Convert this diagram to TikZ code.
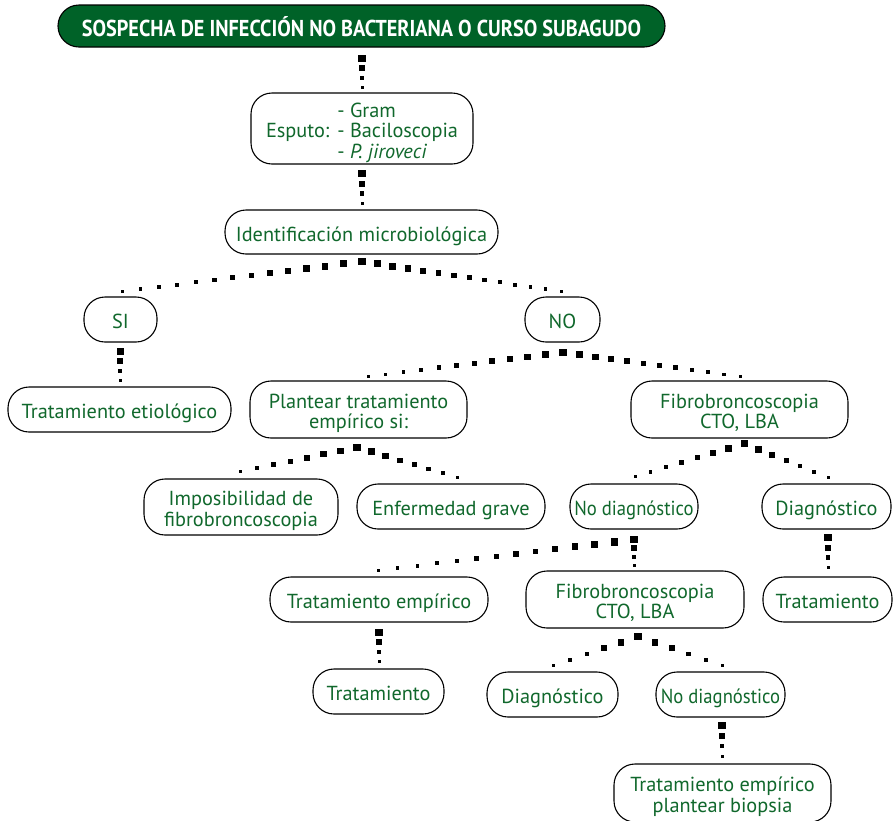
\documentclass[tikz,border=0pt]{standalone}
\usepackage{fontspec}
\setmainfont{PT Sans}
\newfontfamily\headfont[FakeStretch=0.88]{PT Sans}
\newfontfamily\narrowfont[FakeStretch=0.92]{PT Sans}
\usetikzlibrary{calc}
\definecolor{leafgreen}{RGB}{16,104,44}
\definecolor{headgreen}{RGB}{0,98,40}
\tikzset{
  box/.style={draw=black, line width=1.1pt, rounded corners=21pt, fill=white,
    text=leafgreen, align=center, inner sep=0pt,
    font=\fontsize{20.3}{20.5}\selectfont,
    text height=18pt, text depth=0pt},
  narrowbox/.style={box, font=\narrowfont\fontsize{20.3}{20.5}\selectfont},
  twoline/.style={box, text height=38.5pt, text depth=0pt},
  threeline/.style={box, text depth=41pt},
  headbox/.style={draw=black, line width=1.1pt, rounded corners=21pt,
    fill=headgreen, text=white, inner sep=0pt,
    font=\headfont\fontsize{23}{24}\selectfont\bfseries,
    text height=21.4pt, text depth=0pt},
  sq/.style={fill=black, draw=none, inner sep=0pt, outer sep=0pt}
}
% tapered chain of squares from #1 (large) to #2 (small), #3 intervals
\newcommand\dotlink[3]{%
  \foreach \k in {0,...,#3} {
    \pgfmathsetmacro\dlt{\k/#3}
    \pgfmathsetmacro\dsz{7.5-4.5*\dlt}
    \node[sq, minimum size=\dsz pt] at ($(#1)!\dlt!(#2)$) {};
  }}
\begin{document}
\begin{tikzpicture}[x=1pt, y=-1pt]
\useasboundingbox (0,0) rectangle (893,820);
\clip (0,0) rectangle (893,820);

% nodes
\node[headbox, minimum width=607pt, minimum height=42pt] (head) at (361.5,26)
  {SOSPECHA DE INFECCIÓN NO BACTERIANA O CURSO SUBAGUDO};
\node[threeline, minimum width=222pt, minimum height=71pt] (esputo) at (362,128.5)
  {\begin{tabular}[t]{@{}l@{\hspace{8pt}}l@{}}
     & - Gram\\
    Esputo: & - Baciloscopia\\
     & - \textit{P. jiroveci}
   \end{tabular}};
\node[box, minimum width=273pt, minimum height=44pt] (ident) at (361.5,232)
  {Identificación microbiológica};
\node[box, minimum width=73pt, minimum height=45pt] (si) at (120.5,319.5) {SI};
\node[box, minimum width=75pt, minimum height=45pt] (no) at (562.5,319.5) {NO};
\node[box, minimum width=223pt, minimum height=45pt] (tetio) at (119.5,409.5)
  {Tratamiento etiológico};
\node[twoline, minimum width=217pt, minimum height=57pt] (plantear) at (358.5,409.5)
  {Plantear tratamiento\\empírico si:};
\node[twoline, minimum width=217pt, minimum height=57pt] (fibroA) at (739.5,409.5)
  {Fibrobroncoscopia\\CTO, LBA};
\node[twoline, minimum width=194pt, minimum height=56pt] (imposib) at (241,507)
  {Imposibilidad de\\fibrobroncoscopia};
\node[box, minimum width=188pt, minimum height=45pt] (grave) at (451,506.5)
  {Enfermedad grave};
\node[narrowbox, minimum width=128pt, minimum height=45pt] (nodiagA) at (634,506.5)
  {No diagnóstico};
\node[box, minimum width=129pt, minimum height=45pt] (diagA) at (826.5,506.5)
  {Diagnóstico};
\node[box, minimum width=218pt, minimum height=45pt] (tempir) at (379,599.5)
  {Tratamiento empírico};
\node[twoline, minimum width=218pt, minimum height=57pt] (fibroB) at (635,599.5)
  {Fibrobroncoscopia\\CTO, LBA};
\node[box, minimum width=129pt, minimum height=45pt] (tratA) at (827.5,599.5)
  {Tratamiento};
\node[box, minimum width=131pt, minimum height=45pt] (tratB) at (378.5,691.5)
  {Tratamiento};
\node[box, minimum width=131pt, minimum height=45pt] (diagB) at (552.5,694.5)
  {Diagnóstico};
\node[narrowbox, minimum width=129pt, minimum height=45pt] (nodiagB) at (720.5,694.5)
  {No diagnóstico};
\node[twoline, minimum width=217pt, minimum height=58pt] (biopsia) at (722.5,793)
  {Tratamiento empírico\\plantear biopsia};

% connector end points
\coordinate (headOut)    at ($(head.south)+(0.5,11)$);
\coordinate (esputoIn)   at ($(esputo.north)+(0,-5)$);
\coordinate (esputoOut)  at ($(esputo.south)+(0,9)$);
\coordinate (identIn)    at ($(ident.north)+(0.5,-6)$);
\coordinate (identOut)   at ($(ident.south)+(0.5,7)$);
\coordinate (siIn)       at ($(si.north)+(1.5,-5)$);
\coordinate (noIn)       at ($(no.north)+(-1.5,-5)$);
\coordinate (siOut)      at ($(si.south)+(0,9)$);
\coordinate (tetioIn)    at ($(tetio.north)+(0.5,-6)$);
\coordinate (noOut)      at ($(no.south)+(0.5,10)$);
\coordinate (plantearIn) at ($(plantear.north)+(9.5,-4)$);
\coordinate (fibroAIn)   at ($(fibroA.north)+(0.5,-4)$);
\coordinate (plantearOut) at ($(plantear.south)+(-1.5,9)$);
\coordinate (imposibIn)  at ($(imposib.north)+(-1,-7)$);
\coordinate (graveIn)    at ($(grave.north)+(6,-6)$);
\coordinate (fibroAOut)  at ($(fibroA.south)+(5,5)$);
\coordinate (nodiagAIn)  at ($(nodiagA.north)+(1,-7)$);
\coordinate (diagAIn)    at ($(diagA.north)+(1.5,-6)$);
\coordinate (diagAOut)   at ($(diagA.south)+(1.5,8)$);
\coordinate (tratAIn)    at ($(tratA.north)+(0.5,-9)$);
\coordinate (nodiagAOut) at ($(nodiagA.south)+(0,10)$);
\coordinate (tempirIn)   at ($(tempir.north)+(-1,-6)$);
\coordinate (fibroBIn)   at ($(fibroB.north)+(-1,-5)$);
\coordinate (tempirOut)  at ($(tempir.south)+(0,10)$);
\coordinate (tratBIn)    at ($(tratB.north)+(0.5,-7)$);
\coordinate (fibroBOut)  at ($(fibroB.south)+(3,8)$);
\coordinate (diagBIn)    at ($(diagB.north)+(0.5,-6)$);
\coordinate (nodiagBIn)  at ($(nodiagB.north)+(2,-6)$);
\coordinate (nodiagBOut) at ($(nodiagB.south)+(1.5,8)$);
\coordinate (biopsiaIn)  at ($(biopsia.north)+(-0.5,-7)$);

% connectors
\dotlink{headOut}{esputoIn}{3}
\dotlink{esputoOut}{identIn}{3}
\dotlink{identOut}{siIn}{13}
\dotlink{identOut}{noIn}{13}
\dotlink{siOut}{tetioIn}{3}
\dotlink{noOut}{plantearIn}{11}
\dotlink{noOut}{fibroAIn}{11}
\dotlink{plantearOut}{imposibIn}{7}
\dotlink{plantearOut}{graveIn}{7}
\dotlink{fibroAOut}{nodiagAIn}{7}
\dotlink{fibroAOut}{diagAIn}{6}
\dotlink{diagAOut}{tratAIn}{3}
\dotlink{nodiagAOut}{tempirIn}{13}
\dotlink{nodiagAOut}{fibroBIn}{3}
\dotlink{tempirOut}{tratBIn}{3}
\dotlink{fibroBOut}{diagBIn}{5}
\dotlink{fibroBOut}{nodiagBIn}{5}
\dotlink{nodiagBOut}{biopsiaIn}{3}
\end{tikzpicture}
\end{document}
